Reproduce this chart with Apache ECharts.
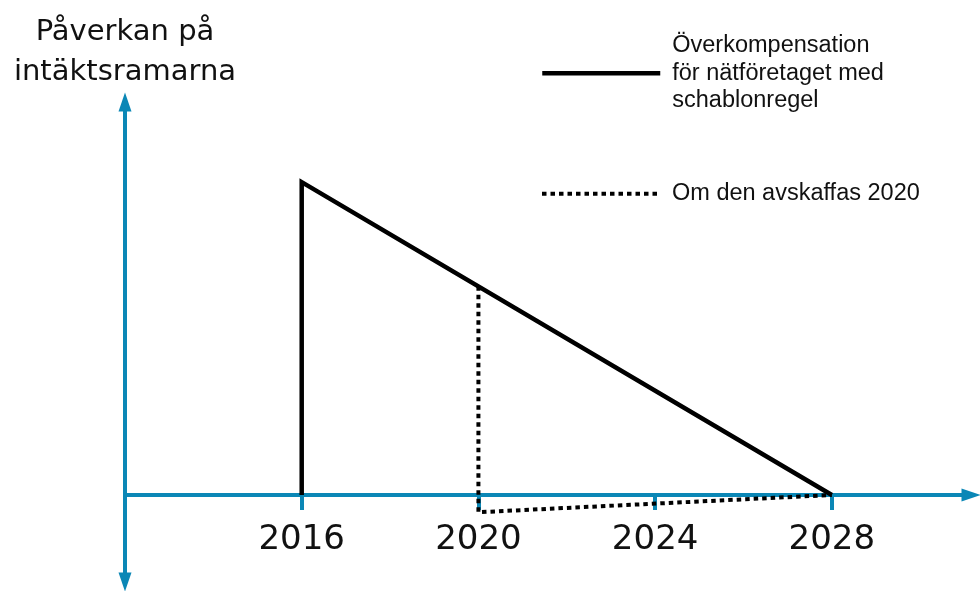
<!DOCTYPE html>
<html>
<head>
<meta charset="utf-8">
<script src="https://cdn.jsdelivr.net/npm/echarts@6/dist/echarts.min.js"></script>
<style>
  html, body { margin: 0; padding: 0; background: #fff; }
  #chart { width: 980px; height: 591px; }
</style>
</head>
<body>
<div id="chart"></div>
<script>
// data
var seriesNames = [
    'Överkompensation för nätföretaget med schablonregel',
    'Om den avskaffas 2020'
];
var legendLabels = [
    'Överkompensation\nför nätföretaget med\nschablonregel',
    'Om den avskaffas 2020'
];
var schablonYears = [2016, 2016, 2028];
var schablonValues = [0, 10, 0];
var avskaffasYears = [2020, 2020, 2028];
var avskaffasValues = [6.67, -0.55, 0];
var tickYears = [2016, 2020, 2024, 2028];

var blue = '#0b87b6';
var font = 'Liberation Sans';
var bigFont = 'DejaVu Sans';

function pairs(xs, ys) {
    return xs.map(function (x, i) { return [x, ys[i]]; });
}

function legendFormatter(name) {
    var i = seriesNames.indexOf(name);
    return i >= 0 ? legendLabels[i] : name;
}

function makeLegend(name, top, lineWidth) {
    return {
        data: [name],
        left: 540,
        top: top,
        padding: 0,
        itemWidth: 118,
        itemHeight: 14,
        formatter: legendFormatter,
        itemStyle: { opacity: 0 },
        lineStyle: { width: lineWidth },
        textStyle: { fontFamily: font, fontSize: 23.5, lineHeight: 27.5, color: '#111', padding: [0, 0, 0, 7] }
    };
}

var option = {
    backgroundColor: '#fff',
    animation: false,
    title: {
        text: 'Påverkan på\nintäktsramarna',
        left: 125,
        top: 12,
        padding: 0,
        textAlign: 'center',
        textStyle: {
            fontFamily: bigFont,
            fontSize: 29,
            fontWeight: 'normal',
            color: '#111',
            lineHeight: 40
        }
    },
    legend: [
        makeLegend(seriesNames[0], 32, 4.5),
        makeLegend(seriesNames[1], 180, 4)
    ],
    grid: {
        left: 125,
        right: 9,
        top: 102,
        bottom: 9,
        outerBoundsMode: 'none'
    },
    xAxis: {
        type: 'value',
        min: 2012,
        max: 2031.15,
        interval: 4,
        splitLine: { show: false },
        axisLine: {
            onZero: true,
            symbol: ['none', 'triangle'],
            symbolSize: [13, 19],
            lineStyle: { color: blue, width: 4 }
        },
        axisTick: {
            customValues: tickYears,
            length: 15,
            lineStyle: { color: blue, width: 4 }
        },
        axisLabel: {
            customValues: tickYears,
            // labels stay at the grid bottom, so pull them up under the zero line
            margin: -59,
            fontFamily: bigFont,
            fontSize: 34,
            color: '#111',
            formatter: function (v) { return String(v); }
        }
    },
    yAxis: {
        type: 'value',
        min: -2.78,
        max: 12.56,
        splitLine: { show: false },
        axisTick: { show: false },
        axisLabel: { show: false },
        axisLine: {
            show: true,
            symbol: ['triangle', 'triangle'],
            symbolSize: [13, 19],
            lineStyle: { color: blue, width: 4 }
        }
    },
    series: [
        {
            name: seriesNames[0],
            type: 'line',
            symbol: 'none',
            data: pairs(schablonYears, schablonValues),
            lineStyle: { color: '#000', width: 4.5, join: 'miter' },
            itemStyle: { color: '#000' },
            z: 3
        },
        {
            name: seriesNames[1],
            type: 'line',
            symbol: 'none',
            data: pairs(avskaffasYears, avskaffasValues),
            lineStyle: { color: '#000', width: 4, type: [4.5, 4], cap: 'butt' },
            itemStyle: { color: '#000' },
            z: 4
        }
    ]
};

var chart = echarts.init(document.getElementById('chart'));
chart.setOption(option);
</script>
</body>
</html>
